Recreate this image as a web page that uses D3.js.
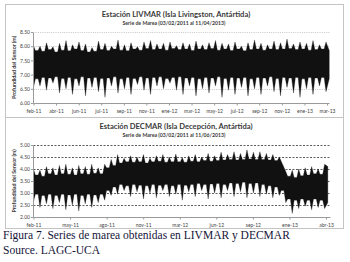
<!DOCTYPE html>
<html>
<head>
<meta charset="utf-8">
<script src="https://cdn.jsdelivr.net/npm/d3@7"></script>
<style>
  body { margin: 0; background: #fff; }
  svg { display: block; }
</style>
</head>
<body>
<div id="chart-area"></div>
<script>
/*
*    mareas LIVMAR / DECMAR
*/

// tick labels
var livLabels = ["feb-11", "abr-11", "jun-11", "jul-11", "sep-11", "nov-11", "ene-12",
    "mar-12", "may-12", "jul-12", "sep-12", "nov-12", "ene-13", "mar-13"];
var decLabels = ["feb-11", "may-11", "ago-11", "nov-11", "mar-12", "jun-12", "sep-12", "ene-13", "abr-13"];
var livTicks = [6.0, 6.5, 7.0, 7.5, 8.0, 8.5];
var decTicks = [2.0, 2.5, 3.0, 3.5, 4.0, 4.5, 5.0];

// envelope of the tide series (m)
var livHigh = [8.02, 7.85, 8.00, 7.82, 8.12, 7.88, 7.98, 7.80, 8.10, 7.86, 8.20, 7.84, 8.05, 7.90, 8.15, 7.85,
    8.08, 7.80, 7.95, 7.82, 8.18, 7.88, 8.10, 7.85, 8.00, 7.90, 8.22, 7.86, 8.05, 7.84, 8.12, 7.90,
    7.98, 7.86, 8.15, 7.92, 8.20, 7.88, 8.08, 7.90, 8.10, 7.86, 8.15, 7.92, 8.02, 7.88, 8.12, 7.90,
    8.08, 7.85, 8.18, 7.90, 8.05, 7.88, 8.12, 7.92, 8.20, 7.86, 8.10, 7.90, 8.08, 7.85, 8.15, 7.90,
    8.00, 7.84, 8.12, 7.88, 8.22, 7.90, 8.10, 7.86, 8.05, 7.90, 8.18, 7.88, 8.12, 7.90, 8.25, 7.92,
    8.08, 7.88, 8.15, 7.90, 8.10, 7.86, 8.20, 7.88, 8.05, 7.90, 8.15, 7.85];
var livLow = [6.55, 6.85, 6.60, 6.90, 6.45, 6.88, 6.70, 6.92, 6.35, 6.86, 6.50, 6.90, 6.30, 6.85, 6.60, 6.92,
    6.25, 6.88, 6.55, 6.90, 6.40, 6.86, 6.20, 6.88, 6.60, 6.92, 6.35, 6.85, 6.50, 6.90, 6.30, 6.86,
    6.65, 6.92, 6.45, 6.88, 6.30, 6.90, 6.60, 6.92, 6.50, 6.86, 6.70, 6.90, 6.45, 6.92, 6.30, 6.88,
    6.60, 6.90, 6.25, 6.85, 6.50, 6.90, 6.35, 6.88, 6.60, 6.92, 6.20, 6.86, 6.45, 6.90, 6.30, 6.88,
    6.55, 6.90, 6.25, 6.85, 6.50, 6.90, 6.30, 6.88, 6.60, 6.92, 6.40, 6.86, 6.25, 6.90, 6.55, 6.88,
    6.35, 6.90, 6.20, 6.85, 6.50, 6.90, 6.30, 6.88, 6.60, 6.90, 6.40, 6.85];
var decHigh = [4.00, 3.75, 3.95, 3.70, 4.10, 3.80, 4.05, 3.75, 4.15, 3.80, 4.20, 3.78, 4.05, 3.75, 4.15, 3.80,
    4.10, 3.78, 4.20, 3.82, 4.05, 3.80,
    4.20, 4.05, 4.40, 4.15,
    4.60, 4.25, 4.45, 4.30, 4.55, 4.28, 4.50, 4.30, 4.60, 4.25, 4.45, 4.30, 4.55, 4.32, 4.60, 4.28,
    4.50, 4.30, 4.62, 4.30, 4.48, 4.28, 4.55, 4.32, 4.60, 4.30, 4.50, 4.35, 4.65, 4.32, 4.55, 4.35,
    4.70, 4.38, 4.60, 4.40, 4.72, 4.38, 4.65, 4.40, 4.80, 4.42, 4.70, 4.40,
    4.72, 4.40, 4.65, 4.38, 4.60, 4.35, 4.50, 4.20, 3.90,
    3.70, 3.95, 3.65, 4.00, 3.72, 4.05, 3.75, 4.10, 3.80, 4.00, 3.78, 4.20, 4.10];
var decLow = [2.65, 2.95, 2.40, 2.90, 2.55, 2.95, 2.35, 2.90, 2.60, 2.95, 2.30, 2.92, 2.50, 2.95, 2.25, 2.90,
    2.55, 2.95, 2.40, 2.92, 2.60, 2.95,
    2.70, 3.10, 2.90, 3.25,
    2.95, 3.35, 3.10, 3.30, 2.85, 3.35, 3.05, 3.32, 2.75, 3.30, 3.00, 3.35, 2.80, 3.32, 3.10, 3.35,
    2.85, 3.30, 2.95, 3.35, 2.70, 3.32, 3.05, 3.35, 2.85, 3.40, 3.10, 3.35, 2.75, 3.38, 3.00, 3.40,
    2.80, 3.35, 3.10, 3.42, 2.85, 3.40, 3.05, 3.45, 2.80, 3.40, 3.00, 3.42,
    2.85, 3.35, 2.95, 3.30, 2.80, 3.25, 2.90, 3.10, 2.60,
    2.75, 2.15, 2.70, 2.35, 2.75, 2.45, 2.70, 2.30, 2.75, 2.40, 2.70, 2.35, 2.60];

var W = 350, H = 262;
var font = "Lato, 'Open Sans', sans-serif";

var svg = d3.select("#chart-area").append("svg")
    .attr("width", W)
    .attr("height", H);

// panel frames
svg.append("rect")
    .attr("x", 5.5).attr("y", 4.5)
    .attr("width", 338).attr("height", 224)
    .attr("fill", "none").attr("stroke", "#c4c4c4");
svg.append("line")
    .attr("x1", 5.5).attr("x2", 343.5)
    .attr("y1", 117.5).attr("y2", 117.5)
    .attr("stroke", "#c4c4c4");

// one edge of the band: local "inner" extremes get a short flat stretch,
// so the outer extremes read as thin spikes
function edge(vals, span, inner) {
    var n = vals.length, dt = span / (n - 1), f = 0.42, out = [];
    vals.forEach((v, i) => {
        var t = i * dt;
        var a = vals[Math.max(i - 1, 0)], b = vals[Math.min(i + 1, n - 1)];
        var flat = i > 0 && i < n - 1 && inner(v, a) && inner(v, b);
        if (flat) {
            out.push([t - f * dt, v]);
            out.push([t + f * dt, v]);
        } else {
            out.push([t, v]);
        }
    });
    return out;
}

function panel(cfg) {
    var g = svg.append("g");

    var x = d3.scaleLinear()
        .domain([0, cfg.labels.length - 1])
        .range([cfg.left, cfg.right]);
    var y = d3.scaleLinear()
        .domain([cfg.ticks[0], cfg.ticks[cfg.ticks.length - 1]])
        .range([cfg.bottom, cfg.top]);

    // grid
    g.selectAll(".grid")
        .data(cfg.ticks.slice(1))
        .enter().append("line")
        .attr("x1", cfg.left).attr("x2", cfg.gridEnd)
        .attr("y1", (d) => { return Math.round(y(d)) + 0.5; })
        .attr("y2", (d) => { return Math.round(y(d)) + 0.5; })
        .attr("stroke", cfg.gridColor)
        .attr("stroke-width", 0.8)
        .attr("stroke-dasharray", cfg.dash);

    // series band
    var up = edge(cfg.high, cfg.span, (v, o) => { return v < o; });
    var dn = edge(cfg.low, cfg.span, (v, o) => { return v > o; }).reverse();
    var line = d3.line()
        .x((d) => { return x(d[0]); })
        .y((d) => { return y(d[1]); });
    g.append("path")
        .attr("d", line(up.concat(dn)) + "Z")
        .attr("fill", "#111")
        .attr("stroke", "#111")
        .attr("stroke-width", 0.3);

    // axes
    var xAxis = d3.axisBottom(x)
        .tickValues(d3.range(cfg.labels.length))
        .tickFormat((d) => { return cfg.labels[d]; })
        .tickSize(2)
        .tickSizeOuter(0);
    var xg = g.append("g")
        .attr("transform", "translate(0, " + (Math.round(cfg.bottom) + 0.5) + ")")
        .call(xAxis);
    xg.select(".domain").attr("stroke", "#9a9a9a").attr("d", "M" + cfg.left + ",0H" + cfg.gridEnd);
    xg.selectAll(".tick line").attr("stroke", "#9a9a9a");
    xg.selectAll("text")
        .attr("y", 6)
        .attr("font-size", "5px")
        .attr("font-family", font)
        .attr("fill", "#444");

    var yAxis = d3.axisLeft(y)
        .tickValues(cfg.ticks)
        .tickFormat(d3.format(".2f"))
        .tickSize(2)
        .tickSizeOuter(0);
    var yg = g.append("g")
        .attr("transform", "translate(" + (cfg.left - 0.5) + ", 0)")
        .call(yAxis);
    yg.select(".domain").attr("stroke", "#9a9a9a");
    yg.selectAll(".tick line").attr("stroke", "#9a9a9a");
    yg.selectAll("text")
        .attr("x", -3)
        .attr("font-size", "5px")
        .attr("font-family", font)
        .attr("fill", "#444");

    // titles
    g.append("text")
        .attr("x", 176)
        .attr("y", cfg.titleY)
        .attr("text-anchor", "middle")
        .attr("font-size", "7.6px")
        .attr("font-weight", "bold")
        .attr("font-family", font)
        .attr("fill", "#3a3a3a")
        .text(cfg.title);
    g.append("text")
        .attr("x", 174)
        .attr("y", cfg.titleY + 8)
        .attr("text-anchor", "middle")
        .attr("font-size", "5.2px")
        .attr("font-weight", "bold")
        .attr("font-family", font)
        .attr("fill", "#3a3a3a")
        .text(cfg.subtitle);

    g.append("text")
        .attr("x", -(cfg.top + cfg.bottom) / 2)
        .attr("y", 16)
        .attr("transform", "rotate(-90)")
        .attr("text-anchor", "middle")
        .attr("font-size", "5.3px")
        .attr("font-weight", "bold")
        .attr("font-family", font)
        .attr("fill", "#3a3a3a")
        .text("Profundidad del Sensor (m)");
}

panel({
    labels: livLabels, ticks: livTicks, high: livHigh, low: livLow,
    left: 33.5, right: 327, gridEnd: 329.5, span: 13.1,
    top: 32, bottom: 103,
    gridColor: "#b8b8b8", dash: "1,1.2",
    titleY: 17,
    title: "Estación LIVMAR (Isla Livingston, Antártida)",
    subtitle: "Serie de Marea (03/02/2011  al  11/04/2013)"
});

panel({
    labels: decLabels, ticks: decTicks, high: decHigh, low: decLow,
    left: 33.5, right: 326, gridEnd: 330.5, span: 8.05,
    top: 145, bottom: 217,
    gridColor: "#333", dash: "2,1.5",
    titleY: 129,
    title: "Estación DECMAR (Isla Decepción, Antártida)",
    subtitle: "Serie de Marea (03/02/2011 al 11/06/2013)"
});

// caption
svg.append("text")
    .attr("x", 3)
    .attr("y", 239)
    .attr("font-size", "11.5px")
    .attr("font-family", "'Liberation Serif', serif")
    .attr("fill", "#141438")
    .text("Figura 7. Series de marea obtenidas en LIVMAR y DECMAR");
svg.append("text")
    .attr("x", 3)
    .attr("y", 254)
    .attr("font-size", "11.5px")
    .attr("font-family", "'Liberation Serif', serif")
    .attr("fill", "#141438")
    .text("Source. LAGC-UCA");
</script>
</body>
</html>
